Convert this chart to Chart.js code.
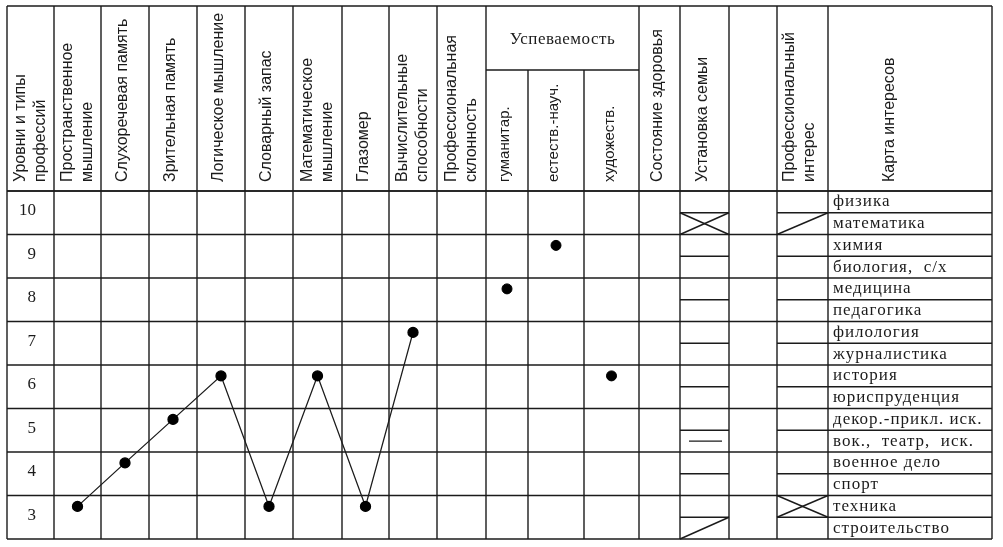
<!DOCTYPE html>
<html>
<head>
<meta charset="utf-8">
<script src="https://cdn.jsdelivr.net/npm/chart.js@4.4.1/dist/chart.umd.min.js"></script>
<style>
  html, body { margin: 0; padding: 0; background: #fff; }
  #chart { display: block; }
</style>
</head>
<body>
<canvas id="chart" width="1003" height="547"></canvas>
<script>
// levels shown in the first column, top to bottom
const levels = [10, 9, 8, 7, 6, 5, 4, 3];

// abilities (connected by a line)
const abilities = [
  'Пространственное\nмышление',
  'Слухоречевая память',
  'Зрительная память',
  'Логическое мышление',
  'Словарный запас',
  'Математическое\nмышление',
  'Глазомер',
  'Вычислительные\nспособности',
];
const abilityLevels = [3, 4, 5, 6, 3, 6, 3, 7];

// school results (separate points)
const gradeGroups = ['гуманитар.', 'естеств.-науч.', 'художеств.'];
const gradeLevels = [8, 9, 6];

// interest map, two per level row
const interests = [
  'физика', 'математика', 'химия', 'биология,  с/х', 'медицина', 'педагогика',
  'филология', 'журналистика', 'история', 'юриспруденция', 'декор.-прикл. иск.',
  'вок.,  театр,  иск.', 'военное дело', 'спорт', 'техника', 'строительство',
];
const familyMarks = { 'математика': 'cross', 'вок.,  театр,  иск.': 'dash', 'строительство': 'slash' };
const interestMarks = { 'математика': 'slash', 'техника': 'cross' };

// layout: column widths of the table in px
const COLS = [
  { w: 47, head: 'Уровни и типы\nпрофессий' },
  ...abilities.map((a, i) => ({ w: [47, 48, 48, 48, 48, 49, 47, 48][i], head: a })),
  { w: 49, head: 'Профессиональная\nсклонность' },
  ...gradeGroups.map((g, i) => ({ w: [42, 56, 55][i], head: g, sub: true })),
  { w: 41, head: 'Состояние здоровья' },
  { w: 49, head: 'Установка семьи', half: true },
  { w: 48, head: '' },
  { w: 51, head: 'Профессиональный\nинтерес', half: true, dx: -3 },
  { w: 164, head: 'Карта интересов', half: true, dx: -18 },
];
const EDGES = [0];
COLS.forEach((c) => EDGES.push(EDGES[EDGES.length - 1] + c.w));
const TOTAL = EDGES[EDGES.length - 1];
const colMid = (i) => (EDGES[i] + EDGES[i + 1]) / 2;

const TOP = 6, HEAD_BOTTOM = 191, SUB_TOP = 70;
const INK = '#1b1b1b';
const SANS = '"Liberation Sans", Arial, sans-serif';
const SERIF = '"Liberation Serif", "Times New Roman", serif';

// a row for level L spans [L - 0.75, L + 0.25]; marks sit at L
const rowTop = (L) => L + 0.25;
const rowBottom = (L) => L - 0.75;

const tablePlugin = {
  id: 'table',
  beforeDatasetsDraw(chart) {
    const { ctx, scales: { x, y }, chartArea } = chart;
    const px = (u) => x.getPixelForValue(u);
    const bottom = chartArea.bottom;
    ctx.save();
    ctx.strokeStyle = INK;
    ctx.lineWidth = 1.4;
    const line = (x1, y1, x2, y2) => {
      ctx.beginPath(); ctx.moveTo(x1, y1); ctx.lineTo(x2, y2); ctx.stroke();
    };

    // outer frame and header line
    line(px(0), TOP, px(TOTAL), TOP);
    line(px(0), HEAD_BOTTOM, px(TOTAL), HEAD_BOTTOM);
    line(px(0), bottom, px(TOTAL), bottom);
    EDGES.forEach((e, i) => {
      const c = COLS[i - 1];
      const startY = (c && c.sub && COLS[i] && COLS[i].sub) ? SUB_TOP : TOP;
      line(px(e), startY, px(e), bottom);
    });

    // "Успеваемость" group
    const g0 = COLS.findIndex((c) => c.sub);
    line(px(EDGES[g0]), SUB_TOP, px(EDGES[g0 + 3]), SUB_TOP);

    // level rows
    levels.forEach((L) => {
      line(px(0), y.getPixelForValue(rowTop(L)), px(TOTAL), y.getPixelForValue(rowTop(L)));
      // half lines in the split columns
      const hy = y.getPixelForValue(L - 0.25);
      COLS.forEach((c, i) => {
        if (c.half) line(px(EDGES[i]), hy, px(EDGES[i + 1]), hy);
      });
    });

    // level numbers
    ctx.fillStyle = INK;
    ctx.font = '17px ' + SERIF;
    ctx.textAlign = 'right';
    ctx.textBaseline = 'middle';
    levels.forEach((L) => ctx.fillText(String(L), px(0) + 29, y.getPixelForValue(L - 0.25) - 2));

    // interest map labels
    const mapCol = COLS.length - 1;
    ctx.textAlign = 'left';
    ctx.letterSpacing = '1px';
    interests.forEach((t, k) => {
      const L = levels[Math.floor(k / 2)];
      const yc = y.getPixelForValue(k % 2 === 0 ? L : L - 0.5);
      ctx.fillText(t, px(EDGES[mapCol]) + 5, yc);
    });
    ctx.letterSpacing = '0px';

    // marks in "Установка семьи" / "Профессиональный интерес"
    const drawMark = (col, item, kind) => {
      const k = interests.indexOf(item);
      const L = levels[Math.floor(k / 2)];
      const yT = y.getPixelForValue(k % 2 === 0 ? rowTop(L) : L - 0.25);
      const yB = y.getPixelForValue(k % 2 === 0 ? L - 0.25 : rowBottom(L));
      const xL = px(EDGES[col]), xR = px(EDGES[col + 1]);
      if (kind === 'cross') { line(xL, yT, xR, yB); line(xL, yB, xR, yT); }
      if (kind === 'slash') line(xL, yB, xR, yT);
      if (kind === 'dash') line(xL + 9, (yT + yB) / 2, xR - 7, (yT + yB) / 2);
    };
    const famCol = COLS.findIndex((c) => c.head === 'Установка семьи');
    const intCol = COLS.findIndex((c) => c.head.startsWith('Профессиональный'));
    Object.entries(familyMarks).forEach(([k, v]) => drawMark(famCol, k, v));
    Object.entries(interestMarks).forEach(([k, v]) => drawMark(intCol, k, v));

    // header texts (rotated)
    ctx.textAlign = 'left';
    ctx.textBaseline = 'middle';
    COLS.forEach((c, i) => {
      if (!c.head) return;
      const lines = c.head.split('\n');
      ctx.font = (c.sub ? '15px ' : '16px ') + SANS;
      const cx = px(colMid(i)) + (c.dx || 0);
      lines.forEach((t, j) => {
        const off = lines.length === 1 ? -2 : (j === 0 ? -10 : 10);
        ctx.save();
        ctx.translate(cx + off, HEAD_BOTTOM - 9);
        ctx.rotate(-Math.PI / 2);
        ctx.fillText(t, 0, 0);
        ctx.restore();
      });
    });
    ctx.font = '17px ' + SERIF;
    ctx.textAlign = 'center';
    ctx.letterSpacing = '0.5px';
    ctx.fillText('Успеваемость', px((EDGES[g0] + EDGES[g0 + 3]) / 2), 40);
    ctx.restore();
  },
};

new Chart(document.getElementById('chart'), {
  type: 'scatter',
  data: {
    datasets: [
      {
        label: 'Способности',
        data: abilityLevels.map((v, i) => ({ x: colMid(i + 1), y: v })),
        showLine: true,
        borderColor: INK,
        borderWidth: 1.3,
        pointRadius: 5,
        pointBackgroundColor: '#000',
        pointBorderColor: '#000',
      },
      {
        label: 'Успеваемость',
        data: gradeLevels.map((v, i) => ({ x: colMid(COLS.findIndex((c) => c.head === gradeGroups[i])), y: v })),
        showLine: false,
        pointRadius: 5,
        pointBackgroundColor: '#000',
        pointBorderColor: '#000',
      },
    ],
  },
  options: {
    responsive: false,
    animation: false,
    devicePixelRatio: 1,
    layout: { padding: { left: 7, right: 1003 - 7 - TOTAL, top: HEAD_BOTTOM, bottom: 8 } },
    plugins: { legend: { display: false }, tooltip: { enabled: false } },
    scales: {
      x: { type: 'linear', min: 0, max: TOTAL, display: false },
      y: { type: 'linear', min: rowBottom(3), max: rowTop(10), display: false },
    },
  },
  plugins: [tablePlugin],
});
</script>
</body>
</html>
